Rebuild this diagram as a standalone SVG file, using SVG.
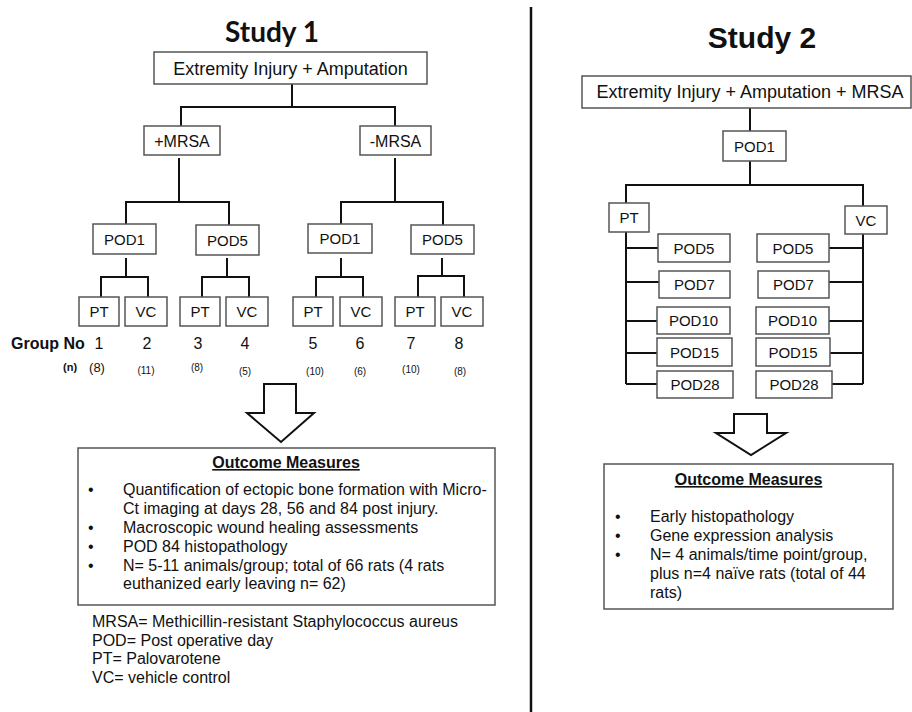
<svg xmlns="http://www.w3.org/2000/svg" width="912" height="712" viewBox="0 0 912 712">
<style>
.bx{fill:#fff;stroke:#555;stroke-width:1.5}
.ln{fill:none;stroke:#111;stroke-width:2}
.t{font-family:"Liberation Sans",Arial,sans-serif;fill:#111}
.c{text-anchor:middle}
.f18{font-size:18px}
.f16{font-size:16px}
.f15{font-size:15px}
.b{font-weight:bold}
.arr{fill:#fff;stroke:#111;stroke-width:2;stroke-linejoin:miter}
</style>
<rect width="912" height="712" fill="#fff"/>
<line x1="531" y1="7" x2="531" y2="712" stroke="#111" stroke-width="2.5"/>

<text x="272" y="42" text-anchor="middle" style="font-family:Lato,'Liberation Sans',sans-serif;font-weight:bold;font-size:28px;fill:#111">Study 1</text>
<text x="762" y="48" class="t c b" style="font-size:30px">Study 2</text>

<g id="connectors">
<!-- Study 1 -->
<path class="ln" d="M292,84V107M181,126V107H395V126"/>
<path class="ln" d="M179,158V202M126,225V202H229V225"/>
<path class="ln" d="M395,158V202M341,224V202H443V225"/>
<path class="ln" d="M126,258V277M101,297V277H148V297"/>
<path class="ln" d="M227,258V277M202,297V277H249V297"/>
<path class="ln" d="M341,258V277M316,297V277H363V297"/>
<path class="ln" d="M442,258V276M418,297V276H464V297"/>
<!-- Study 2 -->
<path class="ln" d="M750,108V131M750,161V185M626,203V185H863V206"/>
<path class="ln" d="M626,232V384M626,248H659M626,282H659M626,321H657M626,353H657M626,384H657"/>
<path class="ln" d="M863,234V384M829,248H863M829,282H863M829,321H863M830,353H863M832,384H863"/>
</g>

<g id="s1-top"><rect class="bx" x="154" y="52" width="273" height="32"/><text class="t c f18" x="290.5" y="75">Extremity Injury + Amputation</text></g>
<g id="s1-pmrsa"><rect class="bx" x="144" y="126" width="76" height="29"/><text class="t c f16" x="182" y="146.5">+MRSA</text></g>
<g id="s1-mmrsa"><rect class="bx" x="360" y="126" width="71" height="29"/><text class="t c f16" x="395.5" y="146.5">-MRSA</text></g>

<g id="s1-pod1a"><rect class="bx" x="93" y="224" width="63" height="30"/><text class="t c f15" x="124.5" y="244.5">POD1</text></g>
<g id="s1-pod5a"><rect class="bx" x="196" y="225" width="63" height="30"/><text class="t c f15" x="227.5" y="245.5">POD5</text></g>
<g id="s1-pod1b"><rect class="bx" x="308" y="224" width="64" height="29"/><text class="t c f15" x="340" y="244">POD1</text></g>
<g id="s1-pod5b"><rect class="bx" x="411" y="225" width="63" height="29"/><text class="t c f15" x="442.5" y="245">POD5</text></g>

<g id="s1-pt1"><rect class="bx" x="79" y="297" width="40" height="29"/><text class="t c f15" x="99" y="317">PT</text></g>
<g id="s1-vc1"><rect class="bx" x="125" y="297" width="42" height="29"/><text class="t c f15" x="146" y="317">VC</text></g>
<g id="s1-pt2"><rect class="bx" x="180" y="297" width="40" height="29"/><text class="t c f15" x="200" y="317">PT</text></g>
<g id="s1-vc2"><rect class="bx" x="226" y="297" width="42" height="29"/><text class="t c f15" x="247" y="317">VC</text></g>
<g id="s1-pt3"><rect class="bx" x="293" y="297" width="40" height="29"/><text class="t c f15" x="313" y="317">PT</text></g>
<g id="s1-vc3"><rect class="bx" x="340" y="297" width="42" height="29"/><text class="t c f15" x="361" y="317">VC</text></g>
<g id="s1-pt4"><rect class="bx" x="395" y="297" width="40" height="29"/><text class="t c f15" x="415" y="317">PT</text></g>
<g id="s1-vc4"><rect class="bx" x="441" y="297" width="42" height="29"/><text class="t c f15" x="462" y="317">VC</text></g>

<g id="s1-groups" class="t">
<text x="11" y="349" class="b f16">Group No</text>
<g class="c f16">
<text x="99" y="349">1</text><text x="147" y="349">2</text><text x="198" y="349">3</text><text x="245" y="349">4</text>
<text x="313" y="349">5</text><text x="360" y="349">6</text><text x="411" y="349">7</text><text x="459" y="349">8</text>
</g>
<text x="63" y="371" class="b" style="font-size:11px">(n)</text>
<text x="97" y="371.5" class="c" style="font-size:13px">(8)</text>
<g class="c" style="font-size:10px">
<text x="146" y="374">(11)</text><text x="197" y="371">(8)</text><text x="245" y="375">(5)</text>
<text x="315" y="375">(10)</text><text x="360" y="375">(6)</text><text x="411" y="373">(10)</text><text x="460" y="375">(8)</text>
</g>
</g>

<g id="s1-arrow"><polygon class="arr" points="264,384 296,384 296,413 314,413 281,442 247,413 264,413"/></g>

<g id="s1-outcome">
<rect class="bx" x="78" y="448" width="417" height="157"/>
<text class="t c f16 b" x="286" y="468" text-decoration="underline">Outcome Measures</text>
<g class="t f16">
<text x="88" y="495">•</text><text x="123" y="495">Quantification of ectopic bone formation with Micro-</text>
<text x="123" y="514">Ct imaging at days 28, 56 and 84 post injury.</text>
<text x="88" y="533">•</text><text x="123" y="533">Macroscopic wound healing assessments</text>
<text x="88" y="552">•</text><text x="123" y="552">POD 84 histopathology</text>
<text x="88" y="571">•</text><text x="123" y="571">N= 5-11 animals/group; total of 66 rats (4 rats</text>
<text x="123" y="589">euthanized early leaving n= 62)</text>
</g>
</g>

<g id="s1-legend" class="t f16">
<text x="92" y="627">MRSA= Methicillin-resistant Staphylococcus aureus</text>
<text x="92" y="646">POD= Post operative day</text>
<text x="92" y="664">PT= Palovarotene</text>
<text x="92" y="683">VC= vehicle control</text>
</g>

<g id="s2-top"><rect class="bx" x="582" y="76" width="329" height="32"/><text class="t c f18" x="750" y="98">Extremity Injury + Amputation + MRSA</text></g>
<g id="s2-pod1"><rect class="bx" x="723" y="131" width="63" height="30"/><text class="t c f15" x="754.5" y="151.5">POD1</text></g>
<g id="s2-pt"><rect class="bx" x="609" y="203" width="40" height="29"/><text class="t c f15" x="629" y="223">PT</text></g>
<g id="s2-vc"><rect class="bx" x="845" y="206" width="42" height="28"/><text class="t c f15" x="866" y="225.5">VC</text></g>

<g id="s2-l5"><rect class="bx" x="658" y="234" width="72" height="28"/><text class="t c f15" x="694" y="253.5">POD5</text></g>
<g id="s2-l7"><rect class="bx" x="659" y="271" width="71" height="27"/><text class="t c f15" x="694.5" y="290">POD7</text></g>
<g id="s2-l10"><rect class="bx" x="657" y="307" width="73" height="27"/><text class="t c f15" x="693.5" y="326">POD10</text></g>
<g id="s2-l15"><rect class="bx" x="657" y="338" width="75" height="28"/><text class="t c f15" x="694.5" y="357.5">POD15</text></g>
<g id="s2-l28"><rect class="bx" x="657" y="371" width="76" height="27"/><text class="t c f15" x="695" y="390">POD28</text></g>

<g id="s2-r5"><rect class="bx" x="757" y="234" width="72" height="28"/><text class="t c f15" x="793" y="253.5">POD5</text></g>
<g id="s2-r7"><rect class="bx" x="758" y="271" width="71" height="27"/><text class="t c f15" x="793.5" y="290">POD7</text></g>
<g id="s2-r10"><rect class="bx" x="756" y="307" width="73" height="27"/><text class="t c f15" x="792.5" y="326">POD10</text></g>
<g id="s2-r15"><rect class="bx" x="756" y="338" width="74" height="28"/><text class="t c f15" x="793" y="357.5">POD15</text></g>
<g id="s2-r28"><rect class="bx" x="756" y="371" width="76" height="27"/><text class="t c f15" x="794" y="390">POD28</text></g>

<g id="s2-arrow"><polygon class="arr" points="734,414 767,414 767,433 786,433 751,455 716,433 734,433"/></g>

<g id="s2-outcome">
<rect class="bx" x="604" y="464" width="289" height="145"/>
<text class="t c f16 b" x="748.5" y="485" text-decoration="underline">Outcome Measures</text>
<g class="t f16">
<text x="615" y="522">•</text><text x="650" y="522">Early histopathology</text>
<text x="615" y="541">•</text><text x="650" y="541">Gene expression analysis</text>
<text x="615" y="560">•</text><text x="650" y="560">N= 4 animals/time point/group,</text>
<text x="650" y="579">plus n=4 naïve rats (total of 44</text>
<text x="650" y="598">rats)</text>
</g>
</g>
</svg>
